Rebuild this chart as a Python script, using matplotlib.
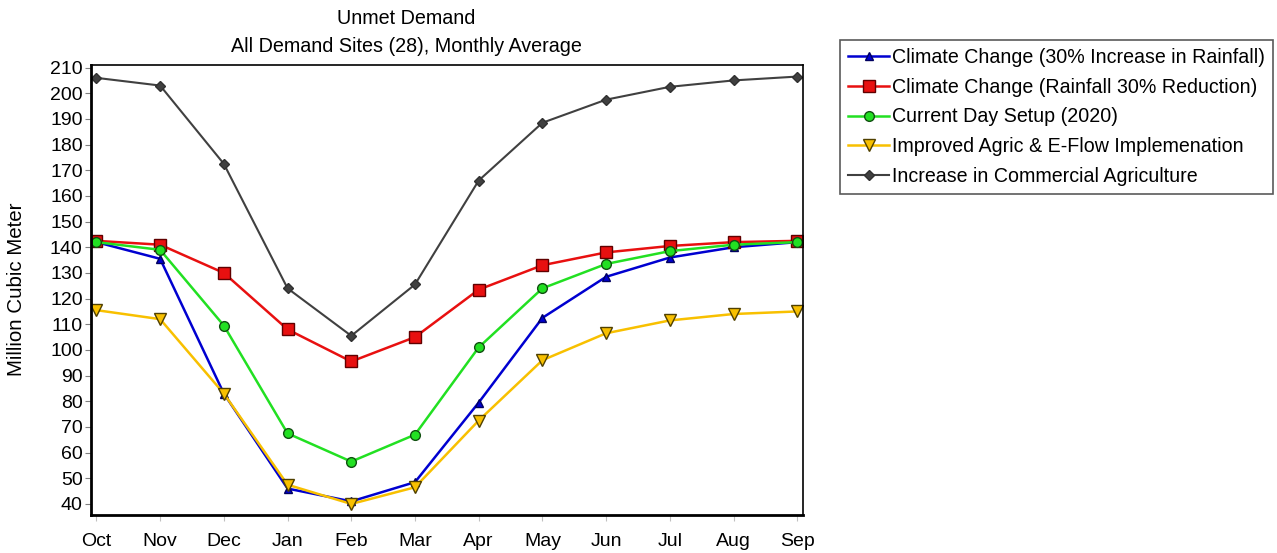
import matplotlib.pyplot as plt

plt.rcParams['font.family'] = ['Liberation Sans', 'DejaVu Sans']

months = ['Oct', 'Nov', 'Dec', 'Jan', 'Feb', 'Mar', 'Apr', 'May', 'Jun', 'Jul', 'Aug', 'Sep']

cc_increase = [142, 135.5, 83, 46, 41, 48.5, 79.5, 112.5, 128.5, 136, 140, 142]
cc_reduction = [142.5, 141, 130, 108, 95.5, 105, 123.5, 133, 138, 140.5, 142, 142.5]
current_day = [142, 139, 109.5, 67.5, 56.5, 67, 101, 124, 133.5, 138.5, 141, 142]
improved_agric = [115.5, 112, 83, 47.5, 40, 46.5, 72.5, 96, 106.5, 111.5, 114, 115]
commercial_agric = [206, 203, 172.5, 124, 105.5, 125.5, 166, 188.5, 197.5, 202.5, 205, 206.5]

fig = plt.figure(figsize=(12.77, 5.53), dpi=100)
ax = fig.add_axes([91 / 1277, 1 - 515 / 553, 712 / 1277, 450.5 / 553])

x = range(len(months))
ax.plot(x, cc_increase, color='#0000d0', marker='^', markersize=6, markeredgecolor='#000060',
        lw=1.8, label='Climate Change (30% Increase in Rainfall)')
ax.plot(x, cc_reduction, color='#e81010', marker='s', markersize=8, markeredgecolor='#600000',
        lw=1.8, label='Climate Change (Rainfall 30% Reduction)')
ax.plot(x, current_day, color='#22e022', marker='o', markersize=7, markeredgecolor='#105010',
        lw=1.8, label='Current Day Setup (2020)')
ax.plot(x, improved_agric, color='#f8c000', marker='v', markersize=8, markeredgecolor='#504000',
        lw=1.8, label='Improved Agric & E-Flow Implemenation')
ax.plot(x, commercial_agric, color='#404040', marker='D', markersize=5, markeredgecolor='#303030',
        lw=1.5, label='Increase in Commercial Agriculture')

ax.set_xlim(-0.085, 11.09)
ax.set_ylim(35.7, 211.2)
ax.set_yticks(range(40, 211, 10))
ax.set_xticks(list(x))
ax.set_xticklabels(months)
ax.tick_params(axis='both', labelsize=14, direction='out')
ax.tick_params(axis='x', length=4, color='#c0c0c0', pad=9)
ax.tick_params(axis='y', length=4, color='#808080', pad=2)
for side in ['left', 'bottom']:
    ax.spines[side].set_linewidth(2)
for side in ['top', 'right']:
    ax.spines[side].set_linewidth(1.2)

ax.set_ylabel('Million Cubic Meter', fontsize=14.8)
ax.yaxis.set_label_coords((26 - 91) / 712, 0.5)
fig.text(406 / 1277, 1 - 18 / 553, 'Unmet Demand', ha='center', va='center', fontsize=14.2)
fig.text(406 / 1277, 1 - 47 / 553, 'All Demand Sites (28), Monthly Average',
         ha='center', va='center', fontsize=14.2)

leg = fig.legend(loc='upper left', bbox_to_anchor=(840 / 1277, 1 - 40 / 553), fontsize=14.1,
                 frameon=True, fancybox=False, edgecolor='#303030', handlelength=2.1,
                 handletextpad=0.15, borderpad=0.42, labelspacing=0.54, borderaxespad=0)
leg.get_frame().set_linewidth(1.2)

fig.savefig('out.png', dpi=100)
